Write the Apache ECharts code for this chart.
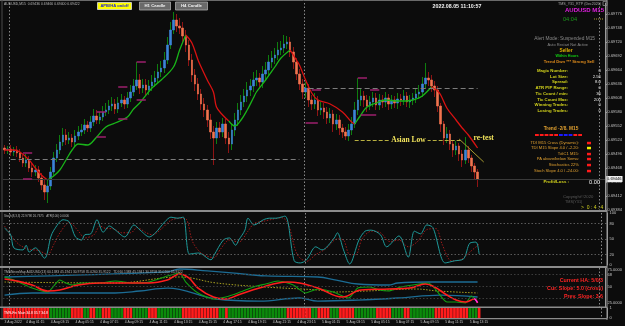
<!DOCTYPE html>
<html><head><meta charset="utf-8">
<script src="https://cdn.jsdelivr.net/npm/echarts/dist/echarts.min.js"></script>
<style>html,body{margin:0;padding:0;background:#0c0c0c;}#c{width:625px;height:326px;}</style>
</head><body><div id="c"></div><script>
// ---- DATA (prices in pipettes, i.e. price x 100000) ----
const SLOTS = 196;                 // M15 slots visible on the time axis
const daySeparators = [2, 98, 194];
const timeTicks = [[0,'3 Aug 2022'],[7,'4 Aug 01:15'],[15,'4 Aug 03:15'],[23,'4 Aug 05:15'],[31,'4 Aug 07:15'],[39,'4 Aug 09:15'],[47,'4 Aug 11:15'],[55,'4 Aug 13:15'],[63,'4 Aug 15:15'],[71,'4 Aug 17:15'],[79,'4 Aug 19:15'],[87,'4 Aug 21:15'],[95,'4 Aug 23:15'],[103,'5 Aug 01:15'],[111,'5 Aug 03:15'],[119,'5 Aug 05:15'],[127,'5 Aug 07:15'],[135,'5 Aug 09:15'],[143,'5 Aug 11:15'],[151,'5 Aug 13:15']];

const openPts = [
69508,69504,69506,69500,69504,69498,69488,69478,69484,69468,
69460,69464,69448,69434,69420,69432,69460,69488,69504,69520,
69534,69524,69528,69520,69532,69540,69544,69554,69548,69560,
69572,69564,69570,69580,69584,69592,69596,69586,69598,69604,
69596,69608,69620,69632,69644,69628,69634,69624,69632,69640,
69648,69660,69668,69684,69714,69744,69764,69752,69748,69732,
69714,69684,69654,69636,69616,69596,69584,69564,69540,69528,
69548,69540,69556,69528,69516,69544,69564,69584,69600,69612,
69624,69632,69644,69648,69640,69656,69664,69680,69688,69694,
69704,69708,69716,69720,69700,69680,69656,69636,69620,69628,
69604,69596,69604,69584,69588,69580,69568,69576,69556,69564,
69548,69540,69532,69544,69556,69584,69604,69612,69604,69592,
69600,69608,69594,69604,69600,69608,69596,69604,69598,69606,
69604,69612,69600,69604,69608,69616,69620,69636,69648,69644,
69632,69624,69592,69556,69528,69536,69516,69504,69512,69496,
69484,69504,69488,69472,69460];
const closePts = [
69504,69506,69500,69504,69498,69488,69478,69484,69468,69460,
69464,69448,69434,69420,69432,69460,69488,69504,69520,69534,
69524,69528,69520,69532,69540,69544,69554,69548,69560,69572,
69564,69570,69580,69584,69592,69596,69586,69598,69604,69596,
69608,69620,69632,69644,69628,69634,69624,69632,69640,69648,
69660,69668,69684,69714,69744,69764,69752,69748,69732,69714,
69684,69654,69636,69616,69596,69584,69564,69540,69528,69548,
69540,69556,69528,69516,69544,69564,69584,69600,69612,69624,
69632,69644,69648,69640,69656,69664,69680,69688,69694,69704,
69708,69716,69720,69700,69680,69656,69636,69620,69628,69604,
69596,69604,69584,69588,69580,69568,69576,69556,69564,69548,
69540,69532,69544,69556,69584,69604,69612,69604,69592,69600,
69608,69594,69604,69600,69608,69596,69604,69598,69606,69604,
69612,69600,69604,69608,69616,69620,69636,69648,69644,69632,
69624,69592,69556,69528,69536,69516,69504,69512,69496,69484,
69504,69488,69472,69460,69446];
const highPts = [
69514,69512,69514,69510,69512,69506,69494,69496,69492,69478,
69474,69472,69458,69446,69444,69470,69500,69516,69534,69548,
69546,69540,69536,69544,69552,69556,69566,69562,69572,69586,
69584,69580,69592,69598,69604,69610,69606,69610,69616,69612,
69620,69634,69646,69680,69656,69646,69646,69644,69654,69662,
69676,69682,69700,69730,69760,69780,69776,69768,69760,69744,
69724,69696,69666,69648,69626,69608,69594,69576,69552,69560,
69560,69568,69566,69540,69556,69578,69598,69614,69626,69640,
69646,69660,69664,69658,69672,69680,69694,69702,69708,69720,
69722,69734,69732,69730,69710,69688,69666,69646,69640,69636,
69614,69618,69612,69600,69598,69590,69588,69584,69576,69574,
69556,69550,69556,69570,69600,69648,69626,69622,69614,69612,
69620,69618,69616,69614,69620,69616,69614,69612,69618,69616,
69624,69620,69614,69618,69628,69634,69650,69678,69660,69654,
69642,69632,69598,69562,69550,69544,69524,69522,69518,69504,
69530,69512,69494,69478,69466];
const lowPts = [
69496,69496,69492,69492,69490,69480,69470,69470,69460,69450,
69452,69440,69424,69404,69398,69424,69452,69480,69496,69512,
69514,69516,69510,69512,69524,69532,69536,69540,69540,69552,
69556,69556,69562,69572,69576,69582,69576,69578,69590,69586,
69588,69600,69612,69624,69616,69618,69612,69614,69622,69630,
69638,69650,69658,69676,69706,69736,69740,69736,69720,69700,
69672,69640,69622,69604,69584,69570,69550,69526,69474,69516,
69528,69530,69516,69498,69504,69532,69552,69574,69590,69600,
69612,69620,69632,69628,69628,69644,69652,69668,69676,69684,
69694,69698,69706,69690,69666,69644,69624,69606,69608,69590,
69584,69586,69572,69574,69566,69556,69558,69540,69544,69534,
69528,69524,69522,69534,69548,69574,69592,69590,69580,69584,
69590,69584,69584,69588,69590,69584,69586,69588,69586,69592,
69594,69590,69588,69594,69598,69606,69610,69626,69632,69620,
69610,69580,69540,69514,69518,69504,69490,69494,69482,69470,
69476,69478,69460,69446,69430];

// moving average segments [barIndex, value]
const maSegments = [
 {dir:'down', pts:[[0,69504],[3,69504],[5,69500],[8,69484],[10,69468],[12,69454],[14,69444]]},
 {dir:'up',   pts:[[14,69444],[16,69452],[18,69464],[20,69484],[22,69504],[24,69516],[27,69514],[30,69530],[33,69550],[36,69558],[40,69570],[42,69586],[44,69598],[48,69628],[51,69644],[55,69670],[57,69704],[59,69734]]},
 {dir:'down', pts:[[59,69734],[61,69718],[63,69684],[64,69670],[66,69644],[68,69620],[69,69590],[71,69574],[73,69562]]},
 {dir:'up',   pts:[[73,69562],[75,69552],[77,69564],[79,69584],[81,69608],[82,69620],[85,69644],[88,69670],[90,69688],[93,69704]]},
 {dir:'down', pts:[[93,69704],[95,69684],[96,69674],[98,69644],[100,69618],[102,69604],[106,69596],[110,69580],[113,69560],[114,69556]]},
 {dir:'up',   pts:[[114,69556],[116,69574],[118,69590],[121,69598],[124,69604],[128,69602],[131,69602],[134,69606],[136,69612],[139,69630]]},
 {dir:'down', pts:[[139,69630],[141,69622],[142,69614],[144,69588],[147,69564],[149,69548],[151,69534],[154,69508]]}
];
const fractalLevels = [[6,9,69498],[6,9,69446],[30,33,69580],[30,33,69530],[37,40,69630],[37,40,69566],[43,46,69680],[43,46,69604],[98,102,69558],[100,103,69624],[115,118,69648],[119,122,69624],[116,121,69574]];
const bidPrice = 69446;
const rangeHigh = [2, 96, 69486];      // dashed level, previous session
const rangeHigh2 = [99, 154, 69628];   // dashed level, current session
const asianLow = [114, 149, 69524];
const trendLine = [[148,69526],[156,69480]];
const retestAt = [156, 69528];

// stochastic
const stochMain = [[0,71],[2,58],[3,33],[6,29],[7,38],[8,25],[10,33],[13,13],[15,54],[16,67],[19,87],[21,83],[23,54],[25,48],[26,58],[28,60],[30,87],[32,63],[34,75],[36,67],[39,54],[42,77],[44,67],[47,54],[49,62],[52,83],[54,92],[56,90],[58,92],[60,21],[63,23],[67,10],[68,19],[71,48],[73,52],[75,38],[76,48],[78,67],[79,90],[81,77],[84,87],[86,90],[88,90],[91,94],[94,8],[96,4],[98,10],[101,35],[103,29],[107,52],[108,62],[110,29],[112,2],[115,48],[117,65],[119,67],[122,58],[124,35],[128,56],[131,15],[133,65],[135,60],[137,77],[139,72],[143,4],[146,8],[149,12],[151,42],[153,44],[154,21]];
const stochSignal = [[0,75],[3,50],[5,38],[8,30],[11,28],[14,20],[16,40],[18,62],[21,82],[24,65],[26,52],[29,58],[31,75],[33,70],[35,70],[38,62],[41,62],[43,72],[46,62],[48,58],[51,70],[54,86],[57,90],[59,88],[61,45],[64,22],[68,14],[70,30],[73,48],[76,44],[79,65],[81,80],[84,84],[87,88],[90,91],[92,80],[95,20],[98,7],[101,20],[104,30],[108,50],[110,48],[112,20],[114,20],[116,50],[119,65],[122,62],[125,45],[128,48],[131,35],[134,45],[137,68],[140,70],[142,40],[145,8],[148,10],[151,25],[154,40]];
const stochLevels = [20, 50, 80];

// TMS / TDI panel
const tmsUpper = [[0,64.4],[53,72],[57,76.5],[66,73.5],[74,70.5],[85,66],[102,64.4],[108,59.8],[115,53.8],[125,52.3],[128,55.3],[138,56.8],[154,56.8]];
const tmsLower = [[0,37.1],[9,40.2],[36,40.2],[44,43.2],[53,47.7],[69,31.1],[83,28],[96,32.6],[102,28],[115,29.5],[128,32.6],[142,37.1],[154,34.1]];
const tmsMid = [[0,56.8],[36,55.3],[57,64.4],[69,55.3],[85,49.2],[102,44.7],[107,41.7],[118,43.2],[134,46.2],[141,43.2],[154,40.2]];
const tmsSignal = [[0,61.4],[4,58.3],[9,52.3],[14,43.2],[18,44.7],[24,52.3],[31,55.3],[47,55.3],[53,59.8],[57,68.9],[60,62.9],[63,47.7],[68,34.1],[72,31.1],[76,37.1],[83,47.7],[92,56.8],[96,55.3],[102,47.7],[110,34.1],[116,44.7],[125,46.2],[132,47.7],[137,53.8],[140,49.2],[144,37.1],[147,29.5],[150,26.5],[153,31.1],[154,25]];
const tmsRsi = [[0,64.4],[3,59.8],[9,47.7],[14,41.7],[18,59.8],[20,55.3],[22,52.3],[25,55.3],[31,55.3],[36,58.3],[42,55.3],[47,56.8],[53,65.9],[57,70.5],[59,56.8],[63,40.2],[68,31.1],[72,34.1],[76,40.2],[81,49.2],[85,53.8],[89,58.3],[94,52.3],[98,40.2],[102,46.2],[107,41.7],[112,32.6],[115,47.7],[119,49.2],[122,44.7],[125,43.2],[129,49.2],[135,53.8],[138,55.3],[140,47.7],[144,26.5],[147,26.5],[150,25],[152,35.6],[153,32]];
const tmsTail = [[153,32],[154,25.5]];
const tmsLevels = [68, 50, 32];

// bottom signal strip (run lengths)
const stripRuns = [['R',15],['G',7],['R',4],['G',2],['R',2],['G',2],['R',3],['G',4],['R',3],['G',5],['R',3],['G',8],['R',12],['G',2],['R',1],['G',19],['R',8],['G',2],['R',4],['G',3],['R',5],['G',7],['R',5],['G',4],['R',2],['G',8],['R',11],['G',3],['R',1]];

// ---- BUILD ----
const cats = Array.from({length:SLOTS}, (_,i)=>String(i));
const tickMap = new Map(timeTicks);
const wickData = openPts.map((o,i)=>[o, closePts[i], lowPts[i], highPts[i]]);
const bodyData = openPts.map((o,i)=>[o, closePts[i], Math.min(o,closePts[i]), Math.max(o,closePts[i])]);
const stripData = [];
stripRuns.forEach(([s,n])=>{ for(let k=0;k<n;k++) stripData.push({value:1, itemStyle:{color: s==='R' ? '#ff1c1c' : '#0b8a0b'}}); });

const F = 'Liberation Sans, Arial, sans-serif';
const SERIF = 'Liberation Serif, serif';
const noLbl = {show:false};
const seg = (a,b,v,style,label)=>[{coord:[a,v], lineStyle:style, label: label||noLbl},{coord:[b,v]}];

const mainMarks = [
  {yAxis: bidPrice, lineStyle:{color:'#3a3a3a', width:1, type:'solid'},
   label:{show:true, position:'end', formatter:(bidPrice/1e5).toFixed(5), color:'#000', backgroundColor:'#f0f0f0', fontSize:4, fontFamily:F, padding:[1,1], distance:1}},
  seg(rangeHigh[0], rangeHigh[1], rangeHigh[2], {color:'#7c7c7c', width:1.2, type:[5,3]}),
  seg(rangeHigh2[0], rangeHigh2[1], rangeHigh2[2], {color:'#7c7c7c', width:1.2, type:[5,3]}),
  seg(asianLow[0], asianLow[1], asianLow[2], {color:'#b8b040', width:1, type:[4,2]},
      {show:true, position:'middle', formatter:'Asian Low', color:'#f2e45c', fontSize:7.5, fontWeight:'bold', fontFamily:SERIF, backgroundColor:'#0c0c0c', padding:[0,2], distance:-4}),
  [{coord:trendLine[0], lineStyle:{color:'#a89a30', width:1, type:'solid'}, label:noLbl},{coord:trendLine[1]}]
].concat(fractalLevels.map(([a,b,v])=>seg(a,b,v,{color:'#9c1f6c', width:1.5, type:'solid'})));

const series = [
  {type:'candlestick', name:'bars', xAxisIndex:0, yAxisIndex:0, data:wickData, barWidth:1, silent:true,
   itemStyle:{color:'#0e7e0e', color0:'#8e1414', borderColor:'#0e7e0e', borderColor0:'#8e1414', borderColorDoji:'#c8c83a', borderWidth:1},
   markLine:{silent:true, symbol:['none','none'], data:mainMarks},
   markPoint:{silent:true, symbol:'circle', symbolSize:0, data:[{coord:retestAt, label:{show:true, formatter:'re-test', color:'#f2e45c', fontSize:7.5, fontWeight:'bold', fontFamily:SERIF}}]}},
  {type:'candlestick', name:'ha', xAxisIndex:0, yAxisIndex:0, data:bodyData, barWidth:2, silent:true,
   itemStyle:{color:'#3c84d8', color0:'#f2744f', borderColor:'#3c84d8', borderColor0:'#f2744f', borderColorDoji:'#d8d040', borderWidth:0.6}}
];
maSegments.forEach(s=>series.push({type:'line', xAxisIndex:0, yAxisIndex:0, data:s.pts, smooth:0.35, symbol:'none', silent:true,
  lineStyle:{color: s.dir==='up' ? '#19b419' : '#d81212', width:1.3}}));
series.push(
  {type:'line', xAxisIndex:1, yAxisIndex:1, data:stochSignal, smooth:0.3, symbol:'none', silent:true, lineStyle:{color:'#a01a1a', width:1, type:[1.5,1.5]},
   markLine:{silent:true, symbol:['none','none'], label:noLbl, lineStyle:{color:'#5a5a5a', type:[1.5,2], width:1}, data:stochLevels.map(v=>({yAxis:v}))}},
  {type:'line', xAxisIndex:1, yAxisIndex:1, data:stochMain, smooth:0.3, symbol:'none', silent:true, lineStyle:{color:'#1f9a9a', width:1}},
  {type:'line', xAxisIndex:2, yAxisIndex:2, data:tmsUpper, smooth:0.4, symbol:'none', silent:true, lineStyle:{color:'#1c6c94', width:1.3},
   markLine:{silent:true, symbol:['none','none'], label:noLbl, lineStyle:{color:'#3c3c3c', type:[1.5,2], width:1}, data:tmsLevels.map(v=>({yAxis:v}))}},
  {type:'line', xAxisIndex:2, yAxisIndex:2, data:tmsLower, smooth:0.4, symbol:'none', silent:true, lineStyle:{color:'#1c6c94', width:1.3}},
  {type:'line', xAxisIndex:2, yAxisIndex:2, data:tmsMid, smooth:0.4, symbol:'none', silent:true, lineStyle:{color:'#a8a020', width:1, type:[1.5,1.5]}},
  {type:'line', xAxisIndex:2, yAxisIndex:2, data:tmsRsi, smooth:0.2, symbol:'none', silent:true, lineStyle:{color:'#12a012', width:1.1}},
  {type:'line', xAxisIndex:2, yAxisIndex:2, data:tmsSignal, smooth:0.4, symbol:'none', silent:true, lineStyle:{color:'#ff1e1e', width:1.6}},
  {type:'line', xAxisIndex:2, yAxisIndex:2, data:tmsTail, symbol:'none', silent:true, lineStyle:{color:'#ff30ff', width:1.4}},
  {type:'bar', xAxisIndex:3, yAxisIndex:3, data:stripData, barCategoryGap:'12%', silent:true}
);

const xAxes = [0,1,2,3].map(k=>({
  type:'category', gridIndex:k, data:cats, boundaryGap:true,
  axisLine:{show:false}, axisTick:{show:false},
  axisLabel: k===3 ? {show:true, interval:(i)=>tickMap.has(i), formatter:(v,i)=>tickMap.get(Number(v))||'', align:'left', color:'#c4c4c4', fontSize:3.4, fontFamily:F, margin:2.5, hideOverlap:false, showMinLabel:true} : {show:false},
  splitLine:{show:true, interval:(i)=>daySeparators.includes(i), lineStyle:{color:'#8a8a8a', type:[1.5,2], width:1}}
}));
const axLbl = {color:'#c4c4c4', fontSize:4, fontFamily:F, margin:2.5};
const axLine = {show:true, lineStyle:{color:'#9a9a9a', width:1}};
const stochLbl = {100:'100', 80:'80', 50:'50', 20:'20', 0:'0'};
const tmsLbl = {75:'75.0000', 68:'68', 50:'50', 25:'25.0000'};
const yAxes = [
  {type:'value', gridIndex:0, position:'right', min:69384, max:69798, interval:28, axisLine:axLine, axisTick:{show:true, length:2, lineStyle:{color:'#9a9a9a'}}, splitLine:{show:false},
   axisLabel:Object.assign({formatter:v=>(v/1e5).toFixed(5), showMaxLabel:false}, axLbl)},
  {type:'value', gridIndex:1, position:'right', min:0, max:100, interval:10, axisLine:axLine, axisTick:{show:false}, splitLine:{show:false},
   axisLabel:Object.assign({formatter:v=>stochLbl[v]||''}, axLbl)},
  {type:'value', gridIndex:2, position:'right', min:19, max:78, interval:1, axisLine:axLine, axisTick:{show:false}, splitLine:{show:false},
   axisLabel:Object.assign({formatter:v=>tmsLbl[v]||'', showMaxLabel:false, showMinLabel:false}, axLbl)},
  {type:'value', gridIndex:3, position:'right', min:0, max:1, interval:1, axisLine:axLine, axisTick:{show:false}, splitLine:{show:false},
   axisLabel:Object.assign({formatter:v=>String(v)}, axLbl)}
];

// ---- overlay texts (positions/styles only) ----
function T(x,y,text,fill,size,weight,align,family){
  return {type:'text', x:x, y:y, z:100, silent:true, style:{text:text, fill:fill, fontSize:size, fontWeight:weight||'normal', fontFamily:family||F, textAlign:align||'left', textVerticalAlign:'middle'}};
}
function R(x,y,w,h,fill,stroke){ return {type:'rect', z:99, silent:true, shape:{x:x,y:y,width:w,height:h}, style:{fill:fill, stroke:stroke||null, lineWidth:stroke?0.8:0}}; }
function L(x1,y1,x2,y2,color,w,dash){ return {type:'line', z:98, silent:true, shape:{x1:x1,y1:y1,x2:x2,y2:y2}, style:{stroke:color, lineWidth:w, lineDash:dash||null}}; }

const g = [];
// frame / separators
g.push(L(0,0.5,607,0.5,'#6a6a6a',1), L(2,0,2,320,'#4a4a4a',1), L(607,0,607,320,'#9a9a9a',1));
g.push(L(0,211,607,211,'#8c8c8c',2), L(0,267,607,267,'#8c8c8c',2), L(0,307.3,607,307.3,'#8c8c8c',1.4), L(0,318.6,607,318.6,'#8c8c8c',1.2));
// top-left info & buttons
g.push(T(4,4.5,'AUDUSD,M15  0.69436 0.69466 0.69400 0.69422','#b8b8b8',3.4));
g.push(R(97.5,2.5,34,7,'#ffff00','#dcdcdc'), T(114.5,6.2,'APB/HA on/off','#1a1ad8',4.1,'bold','center'));
g.push(R(139.5,2,31,8,'#6a6a6a','#a8a8a8'), T(155,6.2,'H1 Candle','#f0f0f0',4.3,'bold','center'));
g.push(R(175.5,2,32,8,'#6a6a6a','#a8a8a8'), T(191.5,6.2,'H4 Candle','#f0f0f0',4.3,'bold','center'));
g.push(T(457,6.5,'2022.08.05 11:10:57','#f4f4f4',5.3,'bold','center'));
// right info panel
g.push(T(601,4,'TMS_Y31_RTP (Dec2020)','#a8a8a8',3.6,'normal','right'), R(603,1.5,4,4,null,'#8a8a8a'));
g.push(T(604,10.5,'AUDUSD M15','#e11ee1',6,'bold','right'));
g.push(T(563,19,'04:04','#1c9a1c',5.6,'normal','left'), L(594,19,603,19,'#a89a30',1,[1,1]));
g.push(T(595,39,'Alert Mode: Suspended M15','#8a8a8a',4.8,'normal','right'));
g.push(T(588,45,'Auto Restart Not Active','#8a8a8a',3.9,'normal','right'));
g.push(T(566,51,'Seller','#e0b000',4.8,'bold','center'));
g.push(T(567,56,'Within Hours','#12d012',3.7,'bold','center'));
g.push(T(569,62,'Trend Dwn *** Strong Sell','#e08c1c',4.2,'bold','center'));
const infoRows = [['Magic Number:','0'],['Lot Size:','2.56'],['Spread:','8.0'],['ATR PIP Range:','0'],['Tic Count / min:','36'],['Tic Count Max:','200'],['Winning Trades:','0'],['Losing Trades:','0']];
const infoY = [71,77,82,88,94,100,105,111];
infoRows.forEach((r,k)=>{ g.push(T(568,infoY[k],r[0],'#d4d41c',4.3,'bold','right'), T(601,infoY[k],r[1],'#e8e8e8',4.3,'normal','right')); });
g.push(T(561,129,'Trend -2/8. M15','#e0a030',4.8,'bold','center'));
const dashColors = ['#ff1a1a','#ff1a1a','#ff1a1a','#ff1a1a','#ff1a1a','#1a1aff','#1a1aff','#1a1aff','#ff1a1a','#ff1a1a'];
dashColors.forEach((c,k)=>g.push(R(535+k*4.8,134,3.8,2,c)));
const indRows = ['TDI M15 Cross (Dynamic):','TDI M15 Slope 4.0 / -2.20:','TdiC1 M15:','PA above/below Sema:','Stochastics 22%','Stoch Slope 4.0 / -24.00:'];
const indY = [143,148,154,159,165,171];
const indCol = ['#ff1a1a','#f0f000','#ff1a1a','#ff1a1a','#ff1a1a','#ff1a1a'];
indRows.forEach((t,k)=>{ g.push(T(579,indY[k],t,'#e0a030',4.1,'normal','right'), R(587,indY[k]-1.2,4,2.5,indCol[k])); });
g.push(T(569,182,'Profit/Loss :','#d4d41c',4.4,'bold','right'), T(600,182,'0.00','#f4f4f4',5.6,'normal','right'));
g.push(T(563,197,'Copyright©2020','#5a5a5a',4.2), T(565,202,'TMS(Y31)','#5a5a5a',3.8));
g.push(T(581,208,'>  0 : 4 : 4','#d0d020',5));
// sub-window titles and texts
g.push(T(4,216.5,'Stoch(8,3,3) 22.9798 26.7675   ATR(100) 0.0006','#b8b8b8',3));
g.push(T(4,272,'TMSNewsMap AUDUSD(13) 60.1383 45.1941 30.9758 35.0260 35.9122   TDI 60.1383 45.1941 30.9758 35.0260 35.9122','#b8b8b8',3.3));
g.push(T(603,281,'Current HA: 5/0/3','#ff2424',5.3,'bold','right'));
g.push(T(603,289,'Cur. Slope: 5.0 (cross)','#ff2424',5.3,'bold','right'));
g.push(T(603,297,'Prev. Slope: 3.6','#ff2424',5.3,'bold','right'));
g.push(T(4,313,'TMS-Fin Main 34.8 35.7 34.8','#ffffff',3.4));

const chart = echarts.init(document.getElementById('c'), null, {renderer:'canvas'});
chart.setOption({
  backgroundColor:'#0c0c0c',
  animation:false,
  grid:[{left:3,right:18,top:3,height:207},{left:3,right:18,top:213,height:52},{left:3,right:18,top:268,height:39},{left:3,right:18,top:308,height:10}],
  xAxis:xAxes, yAxis:yAxes, series:series, graphic:g
});
</script></body></html>
